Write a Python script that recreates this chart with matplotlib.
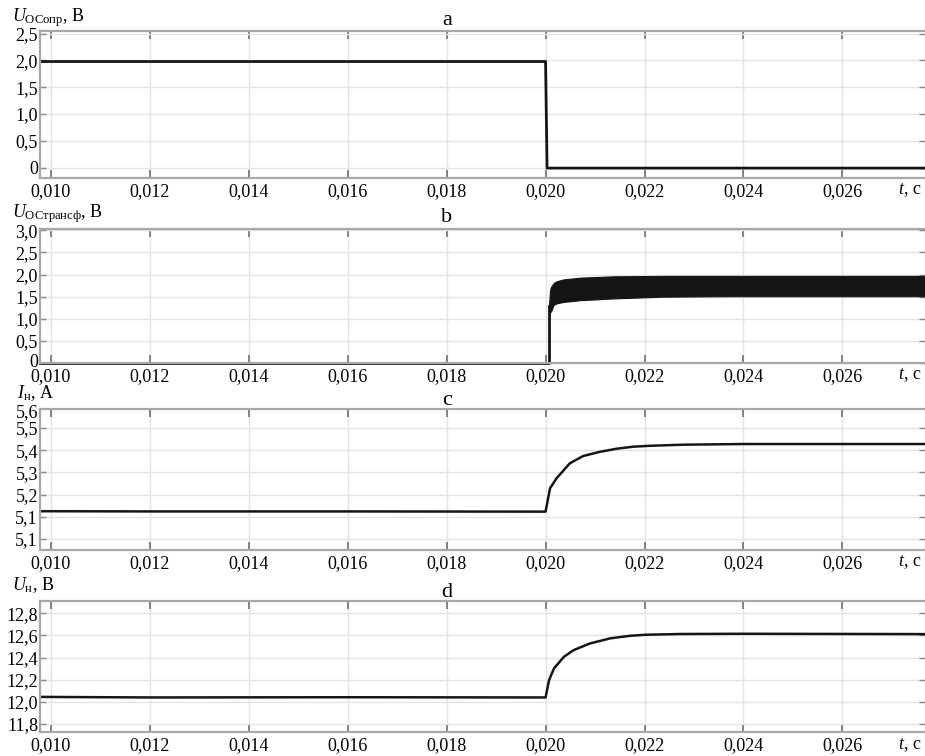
import matplotlib
matplotlib.use("Agg")
import matplotlib.pyplot as plt
from matplotlib.transforms import blended_transform_factory, ScaledTranslation

plt.rcParams['font.family'] = ['Liberation Serif', 'DejaVu Serif']
plt.rcParams['mathtext.fontset'] = 'custom'
plt.rcParams['mathtext.rm'] = 'Liberation Serif'
plt.rcParams['mathtext.it'] = 'Liberation Serif:italic'

# ---------------- data ----------------
x_ticks = [0.010, 0.012, 0.014, 0.016, 0.018, 0.020, 0.022, 0.024, 0.026]
x_tick_labels = ['0,010', '0,012', '0,014', '0,016', '0,018', '0,020', '0,022', '0,024', '0,026']

# panel a
t_a = [0.00978, 0.02000, 0.02003, 0.02767]
u_a = [1.98, 1.98, -0.01, -0.01]
a_yticks = [0, 0.5, 1.0, 1.5, 2.0, 2.5]
a_ylabels = ['0', '0,5', '1,0', '1,5', '2,0', '2,5']

# panel b
t_b_line = [0.00978, 0.02007, 0.02007]
u_b_line = [0.0, 0.0, 1.30]
t_b_env = [0.02007, 0.02009, 0.02011, 0.02016, 0.02019, 0.02023, 0.02036,
           0.02070, 0.02137, 0.02238, 0.02373, 0.02767]
u_b_upper = [1.30, 1.65, 1.72, 1.80, 1.83, 1.85, 1.89, 1.93, 1.96, 1.97, 1.97, 1.97]
u_b_lower = [1.10, 1.16, 1.16, 1.31, 1.33, 1.35, 1.38, 1.42, 1.46, 1.50, 1.51, 1.51]
b_yticks = [0, 0.5, 1.0, 1.5, 2.0, 2.5, 3.0]
b_ylabels = ['0', '0,5', '1,0', '1,5', '2,0', '2,5', '3,0']

# panel c
t_c = [0.00978, 0.0120, 0.0160, 0.02000, 0.02009, 0.02022, 0.02049, 0.02076,
       0.02110, 0.02144, 0.02177, 0.02211, 0.02278, 0.02400, 0.02520, 0.02767]
i_c = [5.125, 5.124, 5.124, 5.123, 5.228, 5.273, 5.341, 5.374,
       5.393, 5.407, 5.416, 5.420, 5.425, 5.428, 5.428, 5.428]
c_yticks = [5.0, 5.1, 5.2, 5.3, 5.4, 5.5]
c_ylabels = ['5,1', '5,1', '5,2', '5,3', '5,4', '5,5']

# panel d
t_d = [0.00978, 0.0120, 0.0160, 0.02000, 0.02007, 0.02017, 0.02037, 0.02057,
       0.02090, 0.02131, 0.02171, 0.02202, 0.02273, 0.02400, 0.02767]
u_d = [12.045, 12.040, 12.042, 12.040, 12.196, 12.302, 12.407, 12.468,
       12.528, 12.574, 12.597, 12.606, 12.613, 12.615, 12.612]
d_yticks = [11.8, 12.0, 12.2, 12.4, 12.6, 12.8]
d_ylabels = ['11,8', '12,0', '12,2', '12,4', '12,6', '12,8']

# ---------------- figure ----------------
W, H = 925, 756
fig = plt.figure(figsize=(W / 100, H / 100), dpi=100)


def px_axes(top, bottom, left=40, right=925):
    return fig.add_axes([left / W, 1 - bottom / H, (right - left) / W, (bottom - top) / H])


LINE = '#151515'
XLIM = (0.00978, 0.02767)


def style(ax, yticks, ylabels, ylim):
    ax.set_xlim(*XLIM)
    ax.set_ylim(*ylim)
    ax.set_xticks(x_ticks)
    ax.set_xticklabels(x_tick_labels)
    ax.set_yticks(yticks)
    ax.set_yticklabels(ylabels)
    ax.grid(True, color='#e4e4e4', lw=1.0)
    ax.set_axisbelow(True)
    for s in ['top', 'left', 'bottom']:
        ax.spines[s].set_color('#a8a8a8')
        ax.spines[s].set_linewidth(1.6)
    ax.spines['right'].set_visible(False)
    ax.tick_params(axis='x', direction='in', length=6, width=1.2, color='#707070',
                   top=True, bottom=True, labelsize=13, pad=4)
    ax.tick_params(axis='y', direction='in', length=4, width=1.0, color='#8a8a8a',
                   left=True, right=True, labelsize=13, pad=1.5)


def tlabel(ypix):
    fig.text(898 / W, 1 - ypix / H, r'$t$, с', fontsize=13, ha='left', va='center')


def title(ch, ypix):
    fig.text(447 / W, 1 - ypix / H, ch, fontsize=16, ha='center', va='baseline')


# panel a
ax_a = px_axes(31, 178)
ax_a.plot(t_a, u_a, color=LINE, lw=2.0)
style(ax_a, a_yticks, a_ylabels, (-0.195, 2.55))
fig.text(12 / W, 1 - 21 / H, r'$U_{\mathrm{ОСопр}}$, В', fontsize=13, ha='left', va='baseline')
title('a', 25)
tlabel(190)

# panel b
ax_b = px_axes(229, 363)
ax_b.plot(t_b_line, u_b_line, color=LINE, lw=2.0, clip_on=False)
ax_b.fill_between(t_b_env, u_b_lower, u_b_upper, color=LINE, lw=0.8, edgecolor=LINE)
style(ax_b, b_yticks, b_ylabels, (0.0, 3.03))
zero_lbl = ax_b.get_yticklabels()[0]
zero_lbl.set_transform(zero_lbl.get_transform() + ScaledTranslation(0, 0.03, fig.dpi_scale_trans))
fig.text(12 / W, 1 - 217 / H, r'$U_{\mathrm{ОСтрансф}}$, В', fontsize=13, ha='left', va='baseline')
title('b', 222)
tlabel(375)

# panel c
ax_c = px_axes(409, 550)
ax_c.plot(t_c, i_c, color=LINE, lw=1.8)
style(ax_c, c_yticks, c_ylabels, (4.95, 5.586))
trans_c = blended_transform_factory(ax_c.transAxes, ax_c.transData)
ax_c.text(-0.0023, 5.568, '5,6', transform=trans_c, fontsize=13, ha='right', va='center')
fig.text(17 / W, 1 - 398 / H, r'$I_{\mathrm{н}}$, А', fontsize=13, ha='left', va='baseline')
title('c', 405)
tlabel(562)

# panel d
ax_d = px_axes(601, 732)
ax_d.plot(t_d, u_d, color=LINE, lw=1.8)
style(ax_d, d_yticks, d_ylabels, (11.728, 12.911))
fig.text(12 / W, 1 - 590 / H, r'$U_{\mathrm{н}}$, В', fontsize=13, ha='left', va='baseline')
title('d', 597)
tlabel(745)

fig.savefig('out.png', dpi=100)
